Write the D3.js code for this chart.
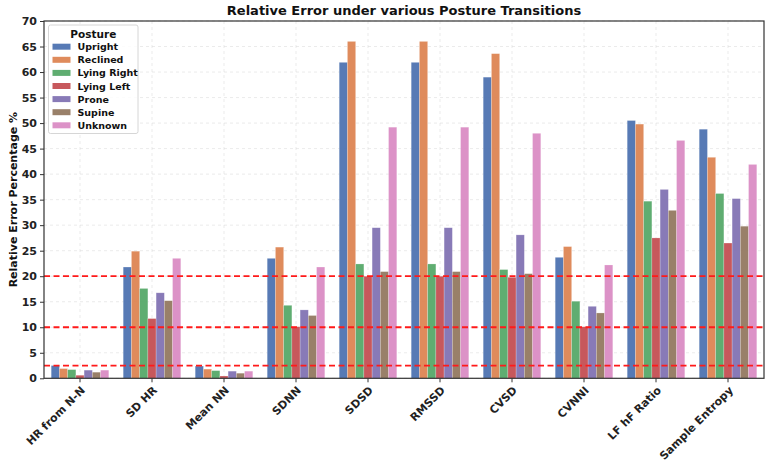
<!DOCTYPE html>
<html><head><meta charset="utf-8">
<script src="https://cdn.jsdelivr.net/npm/d3@7"></script>
<style>body{margin:0;background:#fff}svg{display:block}text{font-family:"DejaVu Sans",sans-serif;font-weight:bold}</style>
</head><body><svg id="c" width="771" height="464"></svg>
<script>
const categories = ["HR from N-N","SD HR","Mean NN","SDNN","SDSD","RMSSD","CVSD","CVNNI","LF hF Ratio","Sample Entropy"];
const postures = ["Upright","Reclined","Lying Right","Lying Left","Prone","Supine","Unknown"];
const upright    = [2.5, 21.8, 2.4, 23.5, 61.9, 61.9, 59.0, 23.7, 50.5, 48.8];
const reclined   = [1.9, 24.9, 1.8, 25.7, 66.0, 66.0, 63.6, 25.8, 49.8, 43.3];
const lyingRight = [1.7, 17.6, 1.5, 14.3, 22.4, 22.4, 21.3, 15.1, 34.7, 36.2];
const lyingLeft  = [0.6, 11.7, 0.45, 10.1, 20.0, 20.0, 19.8, 10.1, 27.5, 26.5];
const prone      = [1.6, 16.75, 1.4, 13.4, 29.5, 29.5, 28.1, 14.1, 37.0, 35.2];
const supine     = [1.2, 15.2, 1.0, 12.3, 20.9, 20.9, 20.5, 12.8, 32.9, 29.8];
const unknown    = [1.6, 23.5, 1.4, 21.8, 49.2, 49.2, 48.0, 22.2, 46.6, 41.9];
const yTicks = [0,5,10,15,20,25,30,35,40,45,50,55,60,65,70];
const refLines = [2.5, 10, 20];
const colors = ["#4C72B0","#DD8452","#55A868","#C44E52","#8172B3","#937860","#DA8BC3"];
const series = [upright, reclined, lyingRight, lyingLeft, prone, supine, unknown];

const svg = d3.select("#c");
const L = 44, R = 764, T = 21, B = 378.3;
const x = d3.scaleBand().domain(categories).range([L, R]).paddingInner(0.2).paddingOuter(0.1);
const xs = d3.scaleBand().domain(postures).range([0, x.bandwidth()]);
const y = d3.scaleLinear().domain([0, 70]).range([B, T]);

// grid
const g = svg.append("g");
g.selectAll(".gy").data(yTicks).join("line")
  .attr("x1", L).attr("x2", R).attr("y1", d => y(d)).attr("y2", d => y(d))
  .attr("stroke", "#ccc").attr("stroke-opacity", 0.5).attr("stroke-dasharray", "3,3").attr("stroke-width", 0.8);
g.selectAll(".gx").data(categories).join("line")
  .attr("x1", d => x(d) + x.bandwidth()/2).attr("x2", d => x(d) + x.bandwidth()/2).attr("y1", T).attr("y2", B)
  .attr("stroke", "#ccc").attr("stroke-opacity", 0.5).attr("stroke-dasharray", "3,3").attr("stroke-width", 0.8);

// bars
series.forEach((s, i) => {
  svg.append("g").selectAll("rect").data(s).join("rect")
    .attr("x", (d, j) => x(categories[j]) + xs(postures[i]))
    .attr("width", xs.bandwidth())
    .attr("y", d => y(d)).attr("height", d => B - y(d))
    .attr("fill", colors[i]).attr("fill-opacity", 0.94)
    .attr("stroke", "#fff").attr("stroke-opacity", 0.35).attr("stroke-width", 0.6);
});

// reference lines
svg.append("g").selectAll("line").data(refLines).join("line")
  .attr("x1", L).attr("x2", R).attr("y1", d => y(d)).attr("y2", d => y(d))
  .attr("stroke", "#ff1a1a").attr("stroke-width", 1.8).attr("stroke-dasharray", "6,3.5");

// axes
const ya = svg.append("g").attr("transform", `translate(${L},0)`)
  .call(d3.axisLeft(y).tickValues(yTicks).tickSize(4).tickPadding(3));
ya.select(".domain").remove();
ya.selectAll("text").attr("font-size", 11).attr("fill", "#222").attr("font-family", "DejaVu Sans").attr("font-weight", "bold");
ya.selectAll("line").attr("stroke", "#333");
const xa = svg.append("g").attr("transform", `translate(0,${B})`)
  .call(d3.axisBottom(x).tickSize(4).tickPadding(3));
xa.select(".domain").remove();
xa.selectAll("line").attr("stroke", "#333");
xa.selectAll("text").attr("font-size", 11).attr("fill", "#222").attr("font-family", "DejaVu Sans").attr("font-weight", "bold")
  .attr("text-anchor", "end").attr("x", 0).attr("y", 0).attr("dy", "0.35em")
  .attr("transform", "translate(3,10) rotate(-45)");

svg.append("rect").attr("x", L).attr("y", T).attr("width", R - L).attr("height", B - T)
  .attr("fill", "none").attr("stroke", "#333").attr("stroke-width", 1.2);

// title & labels
svg.append("text").attr("x", (L + R)/2).attr("y", 14.8).attr("text-anchor", "middle")
  .attr("font-size", 13).attr("fill", "#111").text("Relative Error under various Posture Transitions");
svg.append("text").attr("transform", `translate(17,${(T + B)/2}) rotate(-90)`).attr("text-anchor", "middle")
  .attr("font-size", 11).attr("fill", "#111").text("Relative Error Percentage %");

// legend
const lg = svg.append("g");
lg.append("rect").attr("x", 48.5).attr("y", 25).attr("width", 89.5).attr("height", 108.5).attr("rx", 2)
  .attr("fill", "#fff").attr("fill-opacity", 0.85).attr("stroke", "#ccc").attr("stroke-width", 0.8);
lg.append("text").attr("x", 93.3).attr("y", 37.5).attr("text-anchor", "middle").attr("font-size", 10.5).attr("fill", "#111").text("Posture");
postures.forEach((p, i) => {
  const cy = 46.7 + i * 13.1;
  lg.append("rect").attr("x", 52.5).attr("y", cy - 3).attr("width", 18).attr("height", 6)
    .attr("fill", colors[i]).attr("fill-opacity", 0.94);
  lg.append("text").attr("x", 77.5).attr("y", cy + 3.5).attr("font-size", 9.5).attr("fill", "#111").text(p);
});
</script></body></html>
